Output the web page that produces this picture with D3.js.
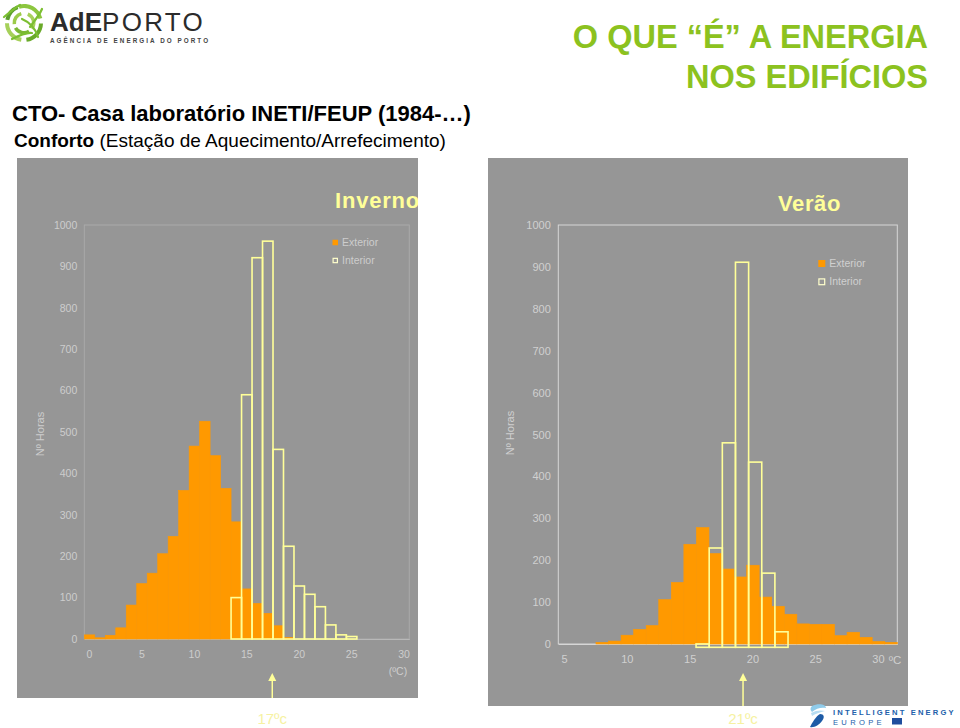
<!DOCTYPE html>
<html><head><meta charset="utf-8">
<script src="https://cdn.jsdelivr.net/npm/d3@7"></script>
<style>
body{margin:0;background:#fff;}
text{font-family:"Liberation Sans",Arial,Helvetica,sans-serif;}
</style>
</head><body>
<script>
// ---------- DATA ----------
const winterCategories = ["0","1","2","3","4","5","6","7","8","9","10","11","12","13","14","15","16","17","18","19","20","21","22","23","24","25","26","27","28","29","30"];
const winterExterior = [10,3,9,27,82,134,159,206,248,359,466,526,443,364,283,121,86,62,32,4,0,0,0,0,0,0,0,0,0,0,0];
const winterInterior = [0,0,0,0,0,0,0,0,0,0,0,0,0,0,100,590,921,961,458,224,128,108,78,34,10,6,0,0,0,0,0];
const winterXTickLabels = ["0","5","10","15","20","25","30"];

const summerCategories = ["5","6","7","8","9","10","11","12","13","14","15","16","17","18","19","20","21","22","23","24","25","26","27","28","29","30","31"];
const summerExterior = [0,0,0,4,7,21,35,44,106,147,238,278,216,179,160,188,112,90,71,48,47,47,20,28,16,6,4];
const summerInterior = [0,0,0,0,0,0,0,0,0,0,0,8,237,488,919,442,177,37,0,0,0,0,0,0,0,0,0];
const summerXTickLabels = ["5","10","15","20","25","30"];

const yTickValues = [0,100,200,300,400,500,600,700,800,900,1000];
const seriesNames = ["Exterior","Interior"];
const comfortMarks = ["17ºc","21ºc"];

// ---------- STYLE ----------
const ORANGE = "#ff9900";
const PALE = "#ffff99";
const PANEL = "#969696";
const GREEN = "#8cc21f";

const svg = d3.select("body").append("svg").attr("width",960).attr("height",728);

// ---------- HEADER ----------
const logo = svg.append("g").attr("transform","translate(24,23)");
const arcGen = d3.arc();
const swirl = [
  {r0:15,r1:19,a0:-0.3,a1:1.3,c:"#8cc63f"},
  {r0:15,r1:19,a0:1.6,a1:3.0,c:"#6aaa2a"},
  {r0:15,r1:19,a0:3.3,a1:4.7,c:"#a6d05a"},
  {r0:15,r1:19,a0:4.9,a1:5.9,c:"#5c9e2e"},
  {r0:8,r1:11.5,a0:0.4,a1:2.2,c:"#a6d05a"},
  {r0:8,r1:11.5,a0:2.6,a1:4.2,c:"#7bb834"},
  {r0:8,r1:11.5,a0:4.6,a1:6.0,c:"#9ccb4a"}
];
swirl.forEach(s=>{
  logo.append("path").attr("d",arcGen({innerRadius:s.r0,outerRadius:s.r1,startAngle:s.a0,endAngle:s.a1})).attr("fill",s.c);
});
[[-20,-6,-4,-18],[18,-14,6,4],[-12,16,8,10],[14,14,-2,-4]].forEach(p=>{
  logo.append("path").attr("d",`M${p[0]},${p[1]} Q${(p[0]+p[2])/2+4},${(p[1]+p[3])/2-4} ${p[2]},${p[3]}`)
    .attr("fill","none").attr("stroke","#7cbf32").attr("stroke-width",2.2).attr("stroke-linecap","round");
});
const brand = svg.append("text").attr("x",50).attr("y",31).attr("font-size",26).attr("fill","#2b2b2b");
brand.append("tspan").attr("font-weight","bold").text("AdE");
brand.append("tspan").attr("font-weight","300").attr("letter-spacing",2.3).text("PORTO");
svg.append("text").attr("x",50).attr("y",43).attr("font-size",6.3).attr("letter-spacing",2.05).attr("font-weight","bold").attr("fill","#444").text("AGÊNCIA DE ENERGIA DO PORTO");

svg.append("text").attr("x",928).attr("y",48).attr("text-anchor","end").attr("font-size",32.5).attr("font-weight","bold").attr("fill",GREEN).text("O QUE “É” A ENERGIA");
svg.append("text").attr("x",928).attr("y",88).attr("text-anchor","end").attr("font-size",32.5).attr("font-weight","bold").attr("fill",GREEN).text("NOS EDIFÍCIOS");

svg.append("text").attr("x",12).attr("y",121).attr("font-size",22).attr("font-weight","bold").attr("fill","#000").text("CTO- Casa laboratório INETI/FEUP (1984-…)");
const sub = svg.append("text").attr("x",14).attr("y",146.5).attr("font-size",19).attr("fill","#000");
sub.append("tspan").attr("font-weight","bold").text("Conforto");
sub.append("tspan").text(" (Estação de Aquecimento/Arrefecimento)");

// ---------- CHART BUILDER ----------
function drawChart(cfg){
  const g = svg.append("g");
  const clipId = "clip"+cfg.id;
  svg.append("clipPath").attr("id",clipId).append("rect")
    .attr("x",cfg.panel[0]).attr("y",cfg.panel[1]).attr("width",cfg.panel[2]).attr("height",cfg.panel[3]);
  g.append("rect").attr("x",cfg.panel[0]).attr("y",cfg.panel[1]).attr("width",cfg.panel[2]).attr("height",cfg.panel[3]).attr("fill",PANEL);

  const x = d3.scaleBand().domain(cfg.cats).range(cfg.xRange).padding(0);
  const xi = d3.scaleBand().domain(cfg.cats).range(cfg.xiRange).padding(0);
  const y = d3.scaleLinear().domain([0,1000]).range(cfg.yRange);
  const yi = d3.scaleLinear().domain([0,1000]).range([cfg.yRange[0]+cfg.yiShift, cfg.yRange[1]+cfg.yiShift]);

  g.append("rect").attr("x",cfg.xRange[0]).attr("y",cfg.yRange[1]).attr("width",cfg.xRange[1]-cfg.xRange[0]).attr("height",cfg.yRange[0]-cfg.yRange[1])
    .attr("fill","none").attr("stroke",cfg.borderColor).attr("stroke-width",1);

  const ya = g.append("g").attr("transform",`translate(${cfg.xRange[0]},0)`)
    .call(d3.axisLeft(y).tickValues(yTickValues).tickSize(0).tickPadding(cfg.yPad).tickFormat(d3.format("d")));
  ya.select(".domain").remove();
  ya.selectAll("text").attr("font-size",cfg.tickSize).attr("fill",cfg.tickColor).attr("font-family","Liberation Sans, Arial, sans-serif");

  const xa = g.append("g").attr("transform",`translate(0,${cfg.yRange[0]})`)
    .call(d3.axisBottom(x).tickValues(cfg.xTicks).tickSize(0).tickPadding(cfg.xPad));
  xa.select(".domain").attr("stroke",cfg.baseColor).attr("stroke-width",1);
  xa.selectAll("text").attr("font-size",cfg.tickSize).attr("fill",cfg.tickColor).attr("font-family","Liberation Sans, Arial, sans-serif");

  g.append("g").selectAll("rect").data(cfg.cats.map((c,i)=>({c,v:cfg.ext[i]})).filter(d=>d.v>0))
    .join("rect")
    .attr("x",d=>x(d.c)).attr("width",x.bandwidth())
    .attr("y",d=>y(d.v)).attr("height",d=>y(0)-y(d.v))
    .attr("fill",ORANGE).attr("stroke",ORANGE).attr("stroke-width",0.6);

  g.append("g").selectAll("rect").data(cfg.cats.map((c,i)=>({c,v:cfg.int[i]})).filter(d=>d.v>0))
    .join("rect")
    .attr("x",d=>xi(d.c)).attr("width",xi.bandwidth())
    .attr("y",d=>yi(d.v)).attr("height",d=>yi(0)-yi(d.v))
    .attr("fill","none").attr("stroke",PALE).attr("stroke-width",1.6);

  g.append("text").attr("x",cfg.titlePos[0]).attr("y",cfg.titlePos[1]).attr("clip-path",`url(#${clipId})`)
    .attr("font-family","DejaVu Sans, Verdana, sans-serif").attr("font-weight","bold").attr("font-size",cfg.titleSize)
    .attr("letter-spacing",cfg.titleSpacing).attr("fill",PALE).text(cfg.title);

  const lg = g.append("g").attr("transform",`translate(${cfg.legend[0]},${cfg.legend[1]})`);
  seriesNames.forEach((name,i)=>{
    const yy = i*cfg.legendGap;
    if(i===0){
      lg.append("rect").attr("x",0).attr("y",yy-cfg.legendBox/2).attr("width",cfg.legendBox).attr("height",cfg.legendBox).attr("fill",ORANGE);
    } else {
      lg.append("rect").attr("x",0.6).attr("y",yy-cfg.legendBox/2+0.6).attr("width",cfg.legendBox-1.2).attr("height",cfg.legendBox-1.2).attr("fill","none").attr("stroke","#ffffcc").attr("stroke-width",1.2);
    }
    lg.append("text").attr("x",cfg.legendBox+4).attr("y",yy).attr("dy","0.35em").attr("font-size",10.5).attr("fill",cfg.tickColor).text(name);
  });

  g.append("text").attr("transform",`translate(${cfg.yTitle[0]},${cfg.yTitle[1]}) rotate(-90)`)
    .attr("text-anchor","middle").attr("dy","0.35em").attr("font-size",11).attr("fill",cfg.tickColor).text("Nº Horas");

  g.append("text").attr("x",cfg.unit[0]).attr("y",cfg.unit[1]).attr("dy","0.35em").attr("text-anchor","middle")
    .attr("font-size",cfg.unitSize).attr("fill",cfg.tickColor).text(cfg.unitText);

  const ax = xi(cfg.arrowCat)+xi.bandwidth()/2 + cfg.arrowNudge;
  g.append("line").attr("x1",ax).attr("x2",ax).attr("y1",cfg.panel[1]+cfg.panel[3]).attr("y2",679)
    .attr("stroke",PALE).attr("stroke-width",1.5);
  g.append("path").attr("d",`M${ax},673 L${ax-4},681 L${ax+4},681 Z`).attr("fill",PALE);
  g.append("text").attr("x",ax).attr("y",724).attr("text-anchor","middle").attr("font-size",15).attr("fill","#f6f2a2").text(cfg.mark);
}

drawChart({
  id:"w", panel:[17,158,401,540],
  cats:winterCategories, ext:winterExterior, int:winterInterior, xTicks:winterXTickLabels,
  xRange:[84.3,409.3], xiRange:[84.3,409.3], yRange:[639,225], yiShift:0,
  borderColor:"#a9a9a9", baseColor:"#b8b8b8", tickColor:"#cdcdcd", tickSize:10.5, yPad:7, xPad:12,
  title:"Inverno", titlePos:[335,208], titleSize:22, titleSpacing:0.8,
  legend:[332.5,242.5], legendGap:18, legendBox:5.5,
  yTitle:[40.5,434], unit:[398,671], unitText:"(ºC)", unitSize:10.5,
  arrowCat:"17", arrowNudge:4.5, mark:comfortMarks[0]
});

drawChart({
  id:"s", panel:[488,158,420,548],
  cats:summerCategories, ext:summerExterior, int:summerInterior, xTicks:summerXTickLabels,
  xRange:[558.3,897.3], xiRange:[551.5,906.3], yRange:[644,225], yiShift:3.3,
  borderColor:"#d6d6d6", baseColor:"#d6d6d6", tickColor:"#d0d0d0", tickSize:11, yPad:7.5, xPad:11,
  title:"Verão", titlePos:[778,210.5], titleSize:22, titleSpacing:0.6,
  legend:[818.3,263.5], legendGap:18.3, legendBox:7,
  yTitle:[510,433], unit:[895,660], unitText:"ºC", unitSize:11.5,
  arrowCat:"19", arrowNudge:1, mark:comfortMarks[1]
});

// ---------- Intelligent Energy Europe logo ----------
const iee = svg.append("g");
iee.append("path").attr("d","M812,706 C818,703 826,704 826,708 C822,707 816,708 812,712 C810,710 810,708 812,706 Z").attr("fill","#8fcbea");
iee.append("path").attr("d","M811,713 C816,710 822,710 825,711 C820,712 815,714 812,716 Z").attr("fill","#b7ddf2");
iee.append("path").attr("d","M820,714 C824,714 825,717 822,721 C819,725 814,728 810,727 C812,723 816,716 820,714 Z").attr("fill","#1d5ba6");
iee.append("text").attr("x",833).attr("y",714.5).attr("font-size",7.6).attr("font-weight","bold").attr("letter-spacing",2.15).attr("fill","#2260aa").text("INTELLIGENT ENERGY");
iee.append("text").attr("x",833).attr("y",724.5).attr("font-size",7.6).attr("letter-spacing",3.3).attr("fill","#2260aa").text("EUROPE");
iee.append("rect").attr("x",892).attr("y",718).attr("width",10).attr("height",6.5).attr("fill","#1f4e9e");
</script>
</body></html>
